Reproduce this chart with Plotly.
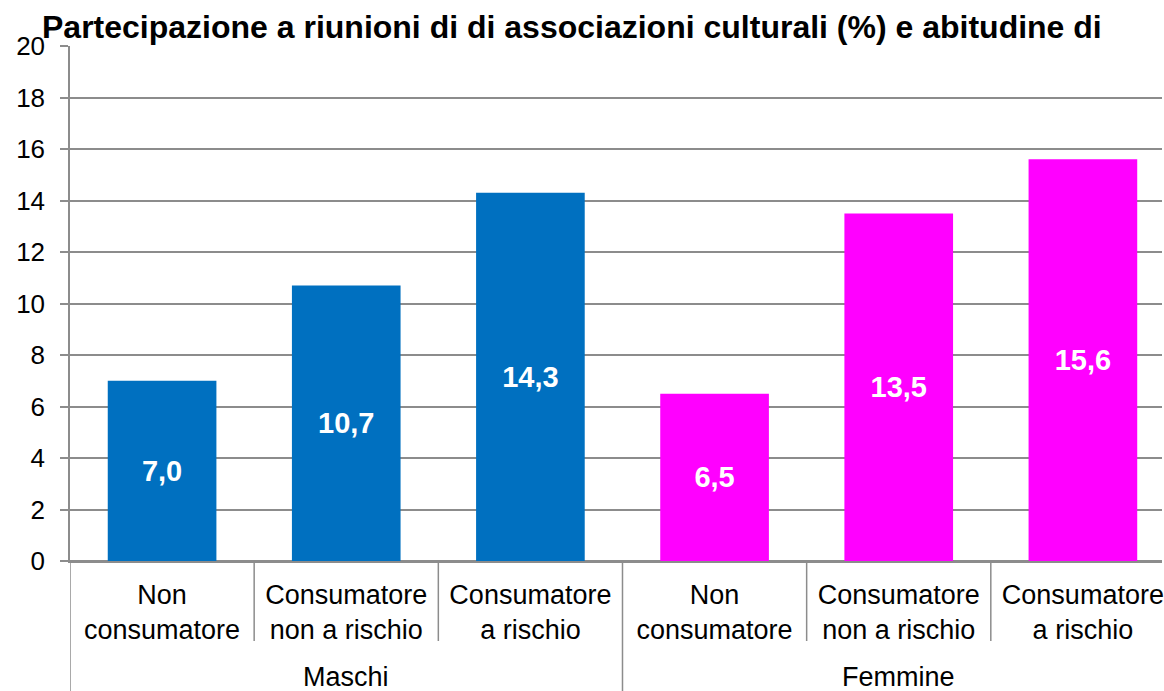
import plotly.graph_objects as go

# Data
groups = ["Maschi", "Femmine"]
categories = ["Non<br>consumatore", "Consumatore<br>non a rischio", "Consumatore<br>a rischio",
              "Non<br>consumatore", "Consumatore<br>non a rischio", "Consumatore<br>a rischio"]
values = [7.0, 10.7, 14.3, 6.5, 13.5, 15.6]
bar_colors = ["#0070C0", "#0070C0", "#0070C0", "#FF00FF", "#FF00FF", "#FF00FF"]
y_ticks = [0, 2, 4, 6, 8, 10, 12, 14, 16, 18, 20]

title_text = "Partecipazione a riunioni di di associazioni culturali (%) e abitudine di"

labels = [f"{v:.1f}".replace(".", ",") for v in values]
positions = list(range(len(values)))
per_group = len(values) // len(groups)

FONT = "Liberation Sans, Arial, sans-serif"
GRID = "#8c8c8c"

W, H = 1164, 691
M_L, M_T, M_B = 70, 46, 130
plot_h = H - M_T - M_B

fig = go.Figure(
    go.Bar(
        x=positions,
        y=values,
        marker=dict(color=bar_colors, line=dict(width=0)),
        text=labels,
        textposition="inside",
        insidetextanchor="middle",
        textangle=0,
        textfont=dict(family=FONT, size=29, color="white", weight="bold"),
        width=0.59,
        hoverinfo="skip",
    )
)

# Category separators below the axis: short ones inside a group,
# full-height ones between the groups
short_len = -80 / plot_h
full_len = -(H - M_T - plot_h) / plot_h
for i in range(len(values)):
    xpos = i - 0.5
    is_group_edge = i % per_group == 0
    fig.add_shape(
        type="line", xref="x", yref="paper",
        x0=xpos, x1=xpos, y0=0, y1=full_len if is_group_edge else short_len,
        line=dict(color=GRID, width=1.5),
    )

# Group names centred under their categories
for g, name in enumerate(groups):
    centre = g * per_group + (per_group - 1) / 2
    fig.add_annotation(
        x=centre, xref="x", y=-(677 - (H - M_B)) / plot_h, yref="paper",
        text=name, showarrow=False, xanchor="center", yanchor="middle",
        font=dict(family=FONT, size=27, color="black"),
    )

visible_right = -0.5 + (W - M_L) / 184.5

fig.update_layout(
    width=W,
    height=H,
    margin=dict(l=M_L, r=0, t=M_T, b=M_B),
    paper_bgcolor="white",
    plot_bgcolor="white",
    showlegend=False,
    font=dict(family=FONT, size=26, color="black"),
    title=dict(
        text=title_text,
        font=dict(family=FONT, size=32, color="black", weight="bold"),
        x=42 / W,
        xanchor="left",
        xref="container",
        y=1 - 27 / H,
        yanchor="middle",
        yref="container",
    ),
    xaxis=dict(
        range=[-0.5, visible_right],
        tickvals=positions,
        ticktext=categories,
        showline=True,
        linecolor=GRID,
        linewidth=1.5,
        showgrid=False,
        zeroline=False,
        ticks="",
        ticklabelstandoff=9,
        ticklabeloverflow="allow",
        tickfont=dict(family=FONT, size=27, color="black"),
    ),
    yaxis=dict(
        range=[0, 20],
        tickvals=y_ticks,
        ticktext=[str(t) for t in y_ticks],
        showgrid=True,
        gridcolor=GRID,
        gridwidth=1.5,
        zeroline=True,
        zerolinecolor=GRID,
        zerolinewidth=1.5,
        showline=True,
        linecolor=GRID,
        linewidth=1.5,
        ticks="outside",
        ticklen=8,
        tickcolor=GRID,
        tickwidth=1.5,
        ticklabelstandoff=10,
        tickfont=dict(family=FONT, size=26, color="black"),
    ),
)

fig.write_html("out.html")
